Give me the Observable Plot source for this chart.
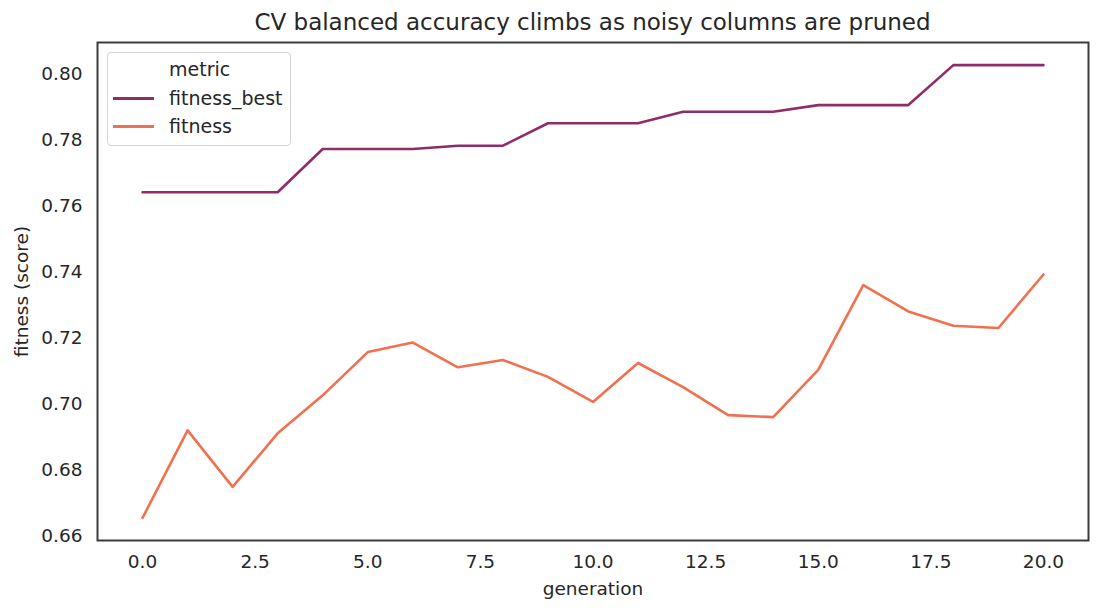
<!DOCTYPE html>
<html>
<head>
<meta charset="utf-8">
<script src="https://cdn.jsdelivr.net/npm/d3@7"></script>
<script src="https://cdn.jsdelivr.net/npm/@observablehq/plot@0.6"></script>
<style>
  html, body { margin: 0; padding: 0; background: #fff; }
  body { font-family: "DejaVu Sans", sans-serif; color: #262626; }
  #wrap { position: relative; width: 1103px; height: 614px; overflow: hidden; }
  #title { height: 41px; margin-left: 97px; width: 991px; text-align: center; font-size: 23px; line-height: 23px; box-sizing: border-box; }
  #title span { position: relative; top: 11px; }
  #legend { position: absolute; left: 107px; top: 52px; width: 182px; height: 92px; border: 1px solid #d4d4d4; border-radius: 4px; background: rgba(255,255,255,0.85); }
  .lg-text { position: absolute; left: 61px; font-size: 19px; line-height: 19px; white-space: nowrap; }
  .lg-line { position: absolute; left: 5px; width: 41px; height: 2.6px; }
  svg { display: block; }
</style>
</head>
<body>
<div id="wrap">
  <div id="title"><span>CV balanced accuracy climbs as noisy columns are pruned</span></div>
  <div id="chart"></div>
  <div id="legend"></div>
</div>
<script>
const generations = [0,1,2,3,4,5,6,7,8,9,10,11,12,13,14,15,16,17,18,19,20];
const fitnessBest = [0.7642,0.7642,0.7642,0.7642,0.7773,0.7773,0.7773,0.7783,0.7783,0.7851,0.7851,0.7851,0.7886,0.7886,0.7886,0.7906,0.7906,0.7906,0.8027,0.8027,0.8027];
const fitness = [0.6656,0.6921,0.6750,0.6912,0.7027,0.7158,0.7187,0.7112,0.7134,0.7083,0.7007,0.7125,0.7052,0.6967,0.6961,0.7104,0.7361,0.7281,0.7238,0.7231,0.7393];
const metrics = ["fitness_best", "fitness"];
const metricColors = ["#8f2d68", "#f1704f"];
const xTicks = [0, 2.5, 5, 7.5, 10, 12.5, 15, 17.5, 20];
const yTicks = [0.66, 0.68, 0.70, 0.72, 0.74, 0.76, 0.78, 0.80];

const rows = [];
metrics.forEach((m, k) => {
  const vals = k === 0 ? fitnessBest : fitness;
  generations.forEach((g, i) => rows.push({generation: g, value: vals[i], metric: m}));
});

const allVals = fitnessBest.concat(fitness);
const yMin = d3.min(allVals), yMax = d3.max(allVals);
const yPad = (yMax - yMin) * 0.05;
const xPad = (d3.max(generations) - d3.min(generations)) * 0.05;

const chart = Plot.plot({
  width: 1103,
  height: 573,
  marginTop: 1,
  marginBottom: 74,
  marginLeft: 97,
  marginRight: 15,
  style: {fontFamily: "DejaVu Sans, sans-serif", fontSize: "18.5px", color: "#262626", background: "transparent"},
  x: {domain: [d3.min(generations) - xPad, d3.max(generations) + xPad]},
  y: {domain: [yMin - yPad, yMax + yPad]},
  color: {domain: metrics, range: metricColors},
  marks: [
    Plot.axisX({ticks: xTicks, tickFormat: d3.format(".1f"), tickSize: 0, tickPadding: 14,
      label: "generation", labelAnchor: "center", labelArrow: "none", labelOffset: 54}),
    Plot.axisY({ticks: yTicks, tickFormat: d3.format(".2f"), tickSize: 0, tickPadding: 15,
      label: "fitness (score)", labelAnchor: "center", labelArrow: "none", labelOffset: 83}),
    Plot.line(rows, {x: "generation", y: "value", stroke: "metric", z: "metric", strokeWidth: 2.6}),
    Plot.frame({stroke: "#3c3c3c", strokeWidth: 2})
  ]
});
document.getElementById("chart").appendChild(chart);

const legend = document.getElementById("legend");
const header = document.createElement("div");
header.className = "lg-text";
header.textContent = "metric";
header.style.top = (69 - 53 - 9.5) + "px";
legend.appendChild(header);
metrics.forEach((m, k) => {
  const cy = [98.3, 126.7][k] - 53;
  const ln = document.createElement("div");
  ln.className = "lg-line";
  ln.style.background = metricColors[k];
  ln.style.top = (cy - 1.3) + "px";
  legend.appendChild(ln);
  const t = document.createElement("div");
  t.className = "lg-text";
  t.textContent = m;
  t.style.top = (cy - 9.5) + "px";
  legend.appendChild(t);
});
</script>
</body>
</html>
